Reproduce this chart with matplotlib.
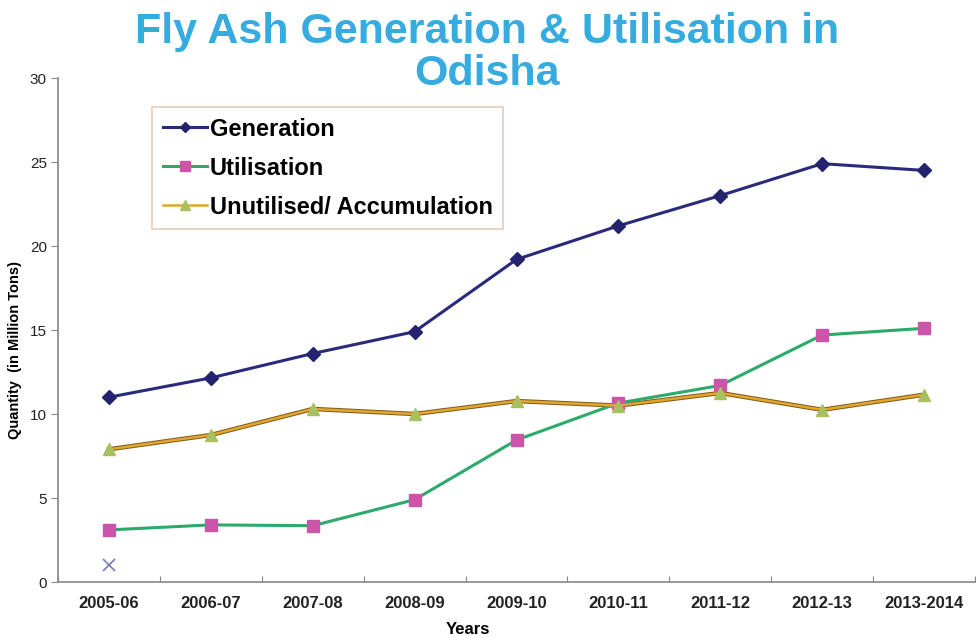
import matplotlib
matplotlib.use("Agg")
import matplotlib.pyplot as plt
import numpy as np

years = ["2005-06", "2006-07", "2007-08", "2008-09", "2009-10",
         "2010-11", "2011-12", "2012-13", "2013-2014"]
generation = [11.0, 12.15, 13.6, 14.9, 19.2, 21.2, 23.0, 24.9, 24.5]
utilisation = [3.1, 3.4, 3.35, 4.9, 8.45, 10.65, 11.7, 14.7, 15.1]
unutilised = [7.9, 8.75, 10.3, 10.0, 10.77, 10.5, 11.25, 10.25, 11.15]
stray_x = [1.0]

plt.rcParams['font.family'] = ['Liberation Sans', 'DejaVu Sans']

fig = plt.figure(figsize=(9.76, 6.38), dpi=100)
ax = fig.add_axes([58/976, 1-582/638, (975-58)/976, (582-78)/638])

x = np.arange(len(years))
ax.plot(x, generation, color='#2A2A7C', lw=2.2, marker='D', ms=7,
        mfc='#23236E', mec='#23236E', label='Generation', zorder=3)
ax.plot(x, utilisation, color='#2BAA6A', lw=2.2, marker='s', ms=9,
        mfc='#CC55AA', mec='#CC55AA', label='Utilisation', zorder=3)
ax.plot(x, unutilised, color='#7A5A20', lw=3.2, zorder=2)
ax.plot(x, unutilised, color='#E3A62A', lw=1.8, marker='^', ms=9,
        mfc='#A8C060', mec='#A8C060', label='Unutilised/ Accumulation', zorder=3)
ax.plot(x[:1], stray_x, linestyle='none', marker='x', ms=9, mew=1.2,
        color='#7A7AAE', zorder=3)

ax.set_xlim(-0.5, len(years) - 0.5)
ax.set_ylim(0, 30)
ax.set_yticks([0, 5, 10, 15, 20, 25, 30])
ax.tick_params(axis='y', direction='out', length=5, color='#888888',
               labelsize=11, labelcolor='#222222', pad=3)

ax.set_xticks(np.arange(-0.5, len(years), 1.0))
ax.set_xticklabels([])
ax.tick_params(axis='x', which='major', direction='in', length=4, color='#888888')
ax.set_xticks(x, minor=True)
ax.set_xticklabels(years, minor=True, fontweight='bold', fontsize=12, color='#222222')
ax.tick_params(axis='x', which='minor', length=0, pad=10)

for s in ['top', 'right']:
    ax.spines[s].set_visible(False)
for s in ['left', 'bottom']:
    ax.spines[s].set_color('#888888')
    ax.spines[s].set_linewidth(1.2)

ax.set_ylabel('Quantity  (in Million Tons)', fontweight='bold', fontsize=10.5)
ax.yaxis.set_label_coords((22-58)/917, (582-350)/504)
ax.set_xlabel('Years', fontweight='bold', fontsize=12)
ax.xaxis.set_label_coords((468-58)/917, -(629-582)/504)
ax.xaxis.label.set_va('center')

fig.text(0.499, 0.981, 'Fly Ash Generation & Utilisation in\nOdisha',
         ha='center', va='top', fontsize=31, fontweight='bold',
         color='#35ABDF', linespacing=1.05)

leg = ax.legend(loc='upper left', bbox_to_anchor=((152-58)/917, 1-(107-78)/504),
                frameon=True, fancybox=False,
                prop={'weight': 'bold', 'size': 17},
                handlelength=1.9, handletextpad=0.1, labelspacing=0.68,
                borderpad=0.45, borderaxespad=0, markerscale=0.8)
leg.get_frame().set_edgecolor('#E2BE9C')
leg.get_frame().set_linewidth(1.2)

fig.savefig('out.png', dpi=100)
